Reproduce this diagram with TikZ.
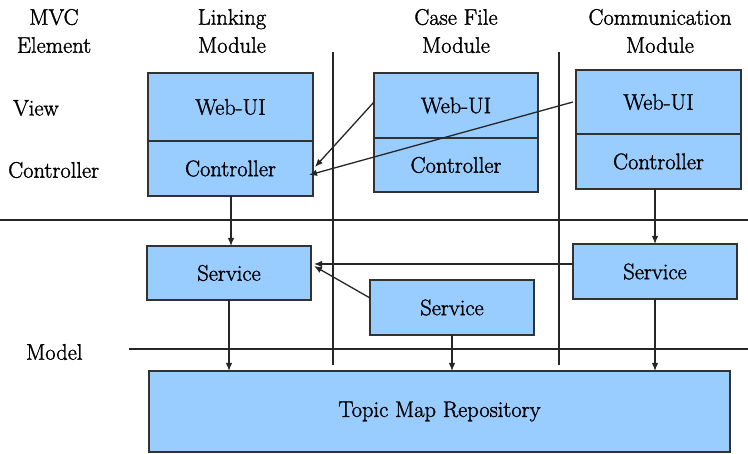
\documentclass[tikz,border=0pt]{standalone}
\usepackage{fontspec}
\newfontfamily\tnr{Latin Modern Roman}[FakeBold=1.5]
\usetikzlibrary{arrows.meta}
\definecolor{boxfill}{RGB}{153,204,255}
\definecolor{boxline}{RGB}{50,50,50}
\begin{document}
\begin{tikzpicture}[x=1pt,y=-1pt,
  every node/.style={font=\tnr\fontsize{22.5}{28}\selectfont},
  box/.style={draw=boxline, line width=1.4pt, fill=boxfill, inner sep=0pt, outer sep=0pt},
  lab/.style={align=center, inner sep=0pt},
  sep/.style={draw=black!85, line width=1.2pt},
  arr/.style={draw=black!85, line width=1.3pt, -{Latex[length=8pt,width=6.5pt]}}]
\useasboundingbox (0,0) rectangle (748,454);
% separator lines
\draw[sep] (0,220) -- (748,220);
\draw[sep] (129,349) -- (748,349);
\draw[sep] (333,52) -- (333,365);
\draw[sep] (559,52) -- (559,365);
% header labels
\node[lab] (mvc) at (54,31) {MVC\\Element};
\node[lab] (hl) at (232,31) {Linking\\Module};
\node[lab] (hc) at (456,31) {Case File\\Module};
\node[lab] (hm) at (660,31) {Communication\\Module};
\node[lab, anchor=west] (view) at (13,108) {View};
\node[lab, anchor=west] (ctrl) at (8,170) {Controller};
\node[lab, anchor=west] (model) at (26,352) {Model};
% linking module
\node[box, minimum width=165pt, minimum height=68pt] (lw) at (230.5,107) {Web-UI};
\node[box, minimum width=165pt, minimum height=55pt] (lc) at (230.5,168.5) {Controller};
% case file module
\node[box, minimum width=164pt, minimum height=65pt] (cw) at (456,105.5) {Web-UI};
\node[box, minimum width=164pt, minimum height=54pt] (cc) at (456,165) {Controller};
% communication module
\node[box, minimum width=165pt, minimum height=64pt] (mw) at (658.5,102) {Web-UI};
\node[box, minimum width=165pt, minimum height=55pt] (mc) at (658.5,161.5) {Controller};
% services
\node[box, minimum width=164pt, minimum height=54pt] (ls) at (229,273) {Service};
\node[box, minimum width=164pt, minimum height=55pt] (cs) at (452,307.5) {Service};
\node[box, minimum width=164pt, minimum height=55pt] (ms) at (655,271.5) {Service};
% repository
\node[box, minimum width=581pt, minimum height=81pt] (repo) at (439.5,411.5) {Topic Map Repository};
% arrows
\draw[arr] ([yshift=3.5pt]cw.west) -- ([xshift=2pt,yshift=1.5pt]lc.east);
\draw[arr] ([xshift=-3pt]mw.west) -- ([xshift=-4pt,yshift=-6.5pt]lc.east);
\coordinate (lcs) at ([xshift=0.5pt]lc.south);
\draw[arr] (lcs) -- (lcs |- ls.north);
\draw[arr] (mc.south -| ms.north) -- (ms.north);
\coordinate (h) at ([yshift=7.5pt]ms.west);
\coordinate (le) at ([xshift=3pt]ls.east);
\draw[arr] (h) -- (le |- h);
\draw[arr] ([yshift=9.5pt]cs.west) -- ([xshift=3pt,yshift=7pt]ls.east);
\draw[arr] (ls.south) -- (ls.south |- repo.north);
\draw[arr] (cs.south) -- (cs.south |- repo.north);
\draw[arr] (ms.south) -- (ms.south |- repo.north);
\end{tikzpicture}
\end{document}
